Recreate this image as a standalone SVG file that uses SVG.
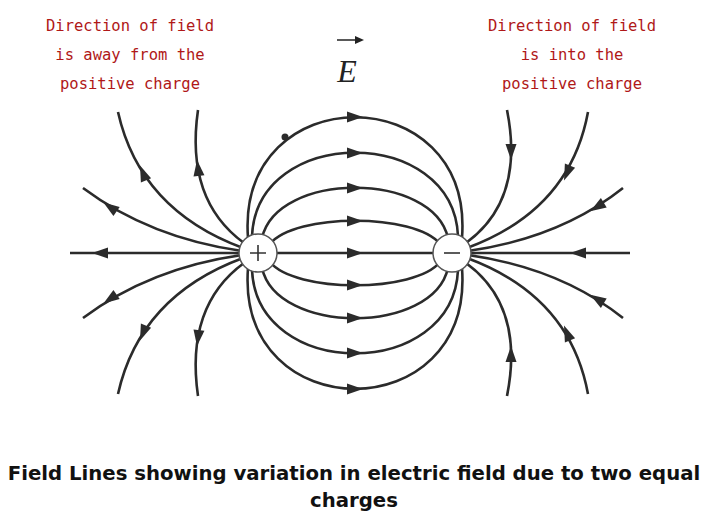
<svg xmlns="http://www.w3.org/2000/svg" xmlns:xlink="http://www.w3.org/1999/xlink" width="709" height="523" viewBox="0 0 709 523">
<style>
.l{fill:none;stroke:#2b2b2b;stroke-width:2.6}
.a{fill:#2b2b2b}
.red{font-family:"DejaVu Sans Mono",monospace;font-size:15.5px;fill:#b01818;text-anchor:middle}
.cap{font-family:"DejaVu Sans",sans-serif;font-size:19.7px;font-weight:bold;fill:#111;text-anchor:middle}
.q{fill:#fff;stroke:#555;stroke-width:1.5}
</style>
<defs>
<path id="ah" d="M-8,-5.5 L8,0 L-8,5.5 z"/>
<g id="half">
<path class="l" d="M248,238 C236,77 474,77 462,238"/>
<path class="l" d="M252,236 C257,125 453,125 458,236"/>
<path class="l" d="M262,238 C277,171 433,171 448,238"/>
<path class="l" d="M270,244 C295,213 415,213 440,244"/>
<use href="#ah" class="a" transform="translate(355,117)"/>
<use href="#ah" class="a" transform="translate(355,153)"/>
<use href="#ah" class="a" transform="translate(355,188)"/>
<use href="#ah" class="a" transform="translate(355,221)"/>
<path class="l" d="M198,110 Q185,200 244,243"/>
<path class="l" d="M118,112 Q140,210 243,248"/>
<path class="l" d="M83,188 Q150,238 242,251"/>
<use href="#ah" class="a" transform="translate(198,168) rotate(-97)"/>
<use href="#ah" class="a" transform="translate(143,173) rotate(-112)"/>
<use href="#ah" class="a" transform="translate(110,207) rotate(-145)"/>
<path class="l" d="M507,110 Q525,200 466,243"/>
<path class="l" d="M588,112 Q570,210 467,248"/>
<path class="l" d="M623,188 Q560,238 468,251"/>
<use href="#ah" class="a" transform="translate(511,152) rotate(90)"/>
<use href="#ah" class="a" transform="translate(567,173) rotate(112)"/>
<use href="#ah" class="a" transform="translate(597,207) rotate(148)"/>
</g>
</defs>
<g id="connectors">
<use href="#half"/>
<use href="#half" transform="matrix(1,0,0,-1,0,506)"/>
<path class="l" d="M70,253 L630,253"/>
<use href="#ah" class="a" transform="translate(100,253) rotate(180)"/>
<use href="#ah" class="a" transform="translate(355,253)"/>
<use href="#ah" class="a" transform="translate(578,253) rotate(180)"/>
<circle cx="285" cy="137" r="3.5" class="a"/>
</g>
<g id="pos">
<circle class="q" cx="258" cy="253" r="19"/>
<path d="M250,253 H266 M258,245 V261" stroke="#333" stroke-width="1.6"/>
</g>
<g id="neg">
<circle class="q" cx="452" cy="253" r="19"/>
<path d="M444,253 H460" stroke="#333" stroke-width="1.6"/>
</g>
<g id="E">
<text x="347" y="82" font-family="Liberation Serif,serif" font-style="italic" font-size="32" fill="#222" text-anchor="middle">E</text>
<path d="M337,40 H360" stroke="#222" stroke-width="1.5"/>
<path d="M364,40 L355,36 L355,44 z" fill="#222"/>
</g>
<g id="labels">
<text class="red" x="130" y="31">Direction of field</text>
<text class="red" x="130" y="60">is away from the</text>
<text class="red" x="130" y="89">positive charge</text>
<text class="red" x="572" y="31">Direction of field</text>
<text class="red" x="572" y="60">is into the</text>
<text class="red" x="572" y="89">positive charge</text>
<text class="cap" x="354" y="480">Field Lines showing variation in electric field due to two equal</text>
<text class="cap" x="354" y="507">charges</text>
</g>
</svg>
